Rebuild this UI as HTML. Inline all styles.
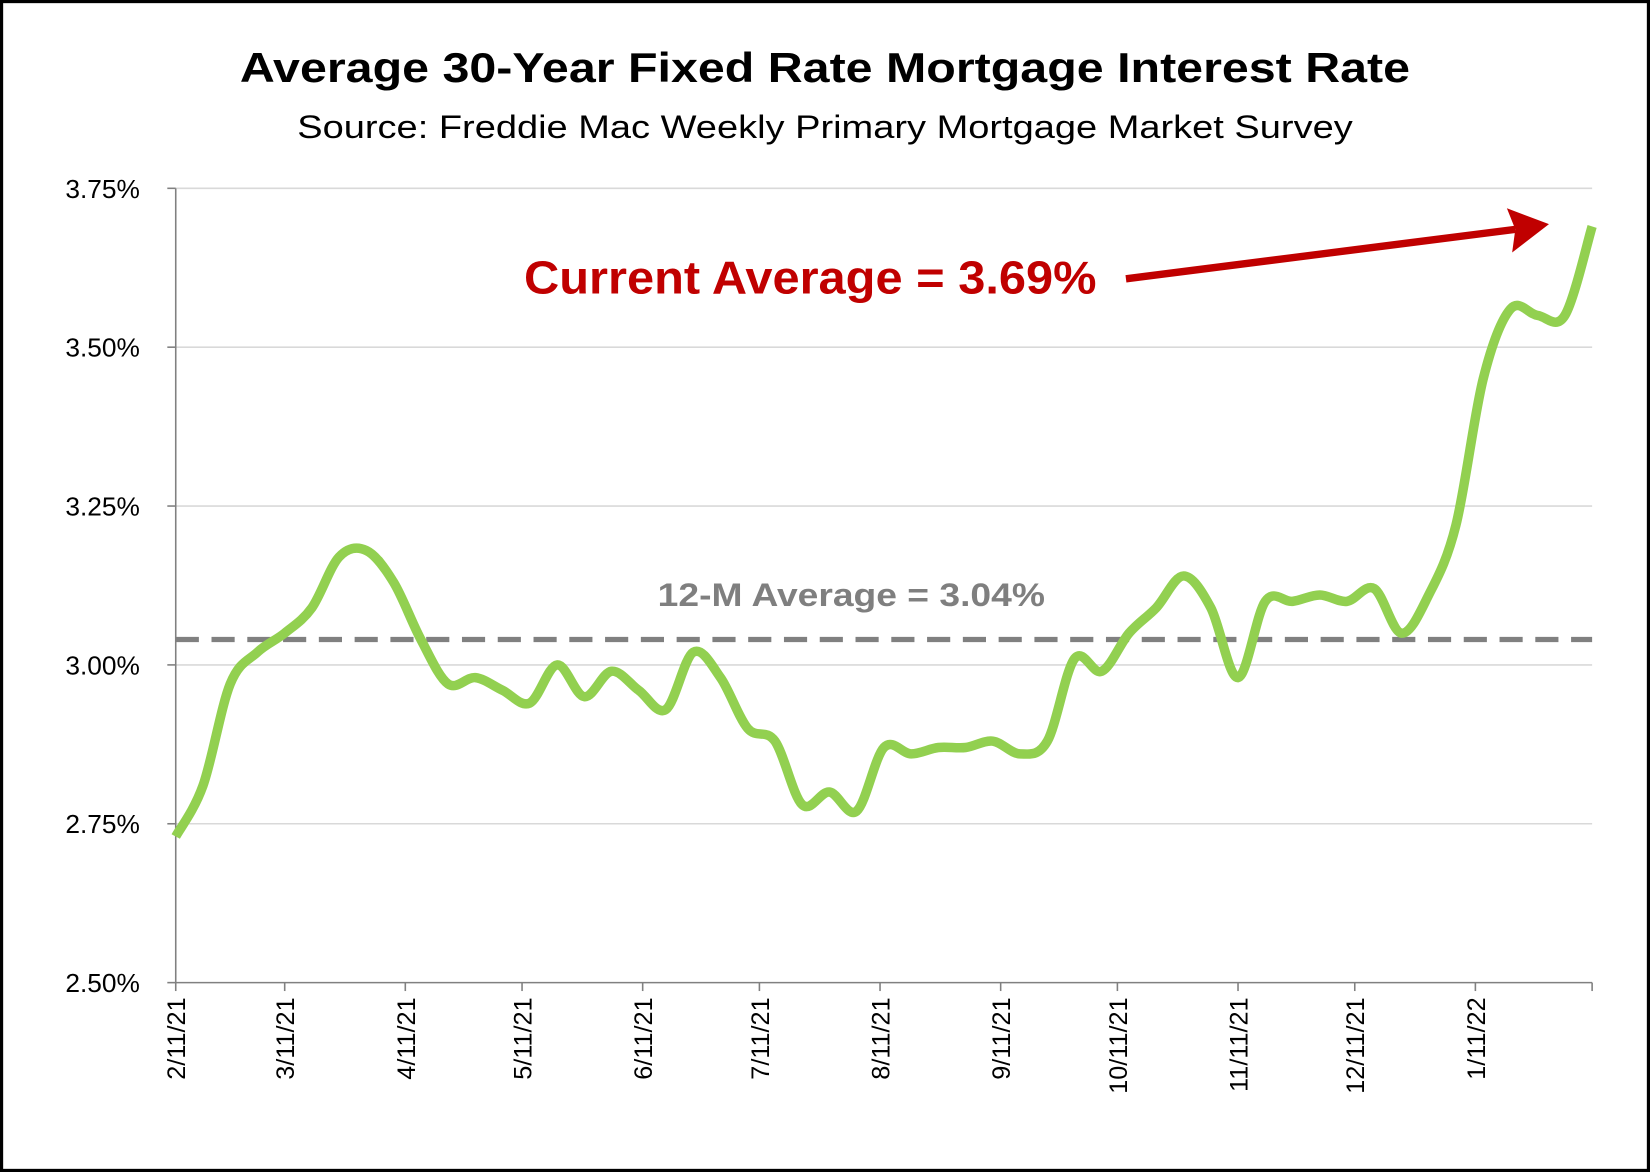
<!DOCTYPE html>
<html><head><meta charset="utf-8"><style>
html,body{margin:0;padding:0;background:#fff;}
svg{display:block;font-family:"Liberation Sans",sans-serif;}
</style></head><body>
<svg id="chart" width="1650" height="1172" viewBox="0 0 1568 1114" preserveAspectRatio="none" xmlns="http://www.w3.org/2000/svg">
<rect x="1.5" y="1.5" width="1565" height="1111" fill="#fff" stroke="#000" stroke-width="3"/>
<text x="784" y="78" text-anchor="middle" font-size="40" font-weight="bold" textLength="1112" lengthAdjust="spacingAndGlyphs">Average 30-Year Fixed Rate Mortgage Interest Rate</text>
<text x="784" y="131" text-anchor="middle" font-size="31" textLength="1003" lengthAdjust="spacingAndGlyphs">Source: Freddie Mac Weekly Primary Mortgage Market Survey</text>
<g id="grid"></g>
<g id="axes"></g>
<g id="series"></g>
<text x="809" y="576" text-anchor="middle" font-size="31" font-weight="bold" fill="#7f7f7f" textLength="368" lengthAdjust="spacingAndGlyphs">12-M Average = 3.04%</text>
<text x="498" y="279" font-size="44" font-weight="bold" fill="#c00000" textLength="544" lengthAdjust="spacingAndGlyphs">Current Average = 3.69%</text>
<line x1="1070" y1="265" x2="1440" y2="218" stroke="#c00000" stroke-width="7"/>
<polygon points="1472,213 1432,198 1440,218 1437,240" fill="#c00000"/>
</svg>
<script>
const rates=[2.73,2.81,2.97,3.02,3.05,3.09,3.17,3.18,3.13,3.04,2.97,2.98,2.96,2.94,3.00,2.95,2.99,2.96,2.93,3.02,2.98,2.90,2.88,2.78,2.80,2.77,2.87,2.86,2.87,2.87,2.88,2.86,2.88,3.01,2.99,3.05,3.09,3.14,3.09,2.98,3.10,3.10,3.11,3.10,3.12,3.05,3.11,3.22,3.45,3.56,3.55,3.55,3.69];
const average=[3.04];
const yTicks=[2.5,2.75,3.0,3.25,3.5,3.75];
const yTickLabels=["2.50%","2.75%","3.00%","3.25%","3.50%","3.75%"];
const xTickLabels=["2/11/21","3/11/21","4/11/21","5/11/21","6/11/21","7/11/21","8/11/21","9/11/21","10/11/21","11/11/21","12/11/21","1/11/22"];
const xTickDays=[0,28,59,89,120,150,181,212,242,273,303,334];
const NS="http://www.w3.org/2000/svg";
const X0=167,X1=1513,Y0=934,Y1=179,TOTALDAYS=52*7;
const xDay=d=>X0+(X1-X0)*d/TOTALDAYS;
const xIdx=i=>xDay(i*7);
const y=v=>Y0-(v-2.5)/(1.25)*(Y0-Y1);
function mk(tag,attrs,parent){const e=document.createElementNS(NS,tag);for(const k in attrs)e.setAttribute(k,attrs[k]);parent.appendChild(e);return e;}
const grid=document.getElementById('grid'),axes=document.getElementById('axes'),series=document.getElementById('series');
yTicks.forEach((t,i)=>{
 if(i>0){const g=mk('line',{x1:X0,x2:X1,y1:y(t),y2:y(t),stroke:'#d9d9d9','stroke-width':1.5},grid);
 
 }
 const tk=mk('line',{x1:X0-8,x2:X0,y1:y(t),y2:y(t),stroke:'#808080','stroke-width':1.5},axes);
 
 
 const tx=mk('text',{x:133,y:y(t)+9,'text-anchor':'end','font-size':25},axes);
 
 
 tx.textContent=yTickLabels[i];
});
const ya=mk('line',{x1:X0,x2:X0,y1:Y1,y2:Y0,stroke:'#808080','stroke-width':1.5},axes);


const xa=mk('line',{x1:X0,x2:X1,y1:Y0,y2:Y0,stroke:'#808080','stroke-width':1.5},axes);


xTickDays.concat([TOTALDAYS]).forEach(d=>{
 const t=mk('line',{x1:xDay(d),x2:xDay(d),y1:Y0,y2:Y0+8,stroke:'#808080','stroke-width':1.5},axes);
 
 
});
xTickLabels.forEach((l,i)=>{
 const xx=xDay(xTickDays[i])+9,yy=948;
 const t=mk('text',{x:xx,y:yy,'text-anchor':'end','font-size':24,transform:`rotate(-90 ${xx} ${yy})`},axes);
 
 
 t.textContent=l;
});
const av=mk('line',{x1:X0,x2:X1,y1:y(average[0]),y2:y(average[0]),stroke:'#808080','stroke-width':5,'stroke-dasharray':'22 12'},series);


const pts=rates.map((v,i)=>[xIdx(i),y(v)]);
let d=`M${pts[0][0]},${pts[0][1]}`;
for(let i=0;i<pts.length-1;i++){
 const p0=pts[Math.max(0,i-1)],p1=pts[i],p2=pts[i+1],p3=pts[Math.min(pts.length-1,i+2)];
 const c1=[p1[0]+(p2[0]-p0[0])/6,p1[1]+(p2[1]-p0[1])/6],c2=[p2[0]-(p3[0]-p1[0])/6,p2[1]-(p3[1]-p1[1])/6];
 d+=` C${c1[0]},${c1[1]} ${c2[0]},${c2[1]} ${p2[0]},${p2[1]}`;
}
const ln=mk('path',{d:d,fill:'none',stroke:'#92d050','stroke-width':9,'stroke-linejoin':'round'},series);


</script>
</body></html>
